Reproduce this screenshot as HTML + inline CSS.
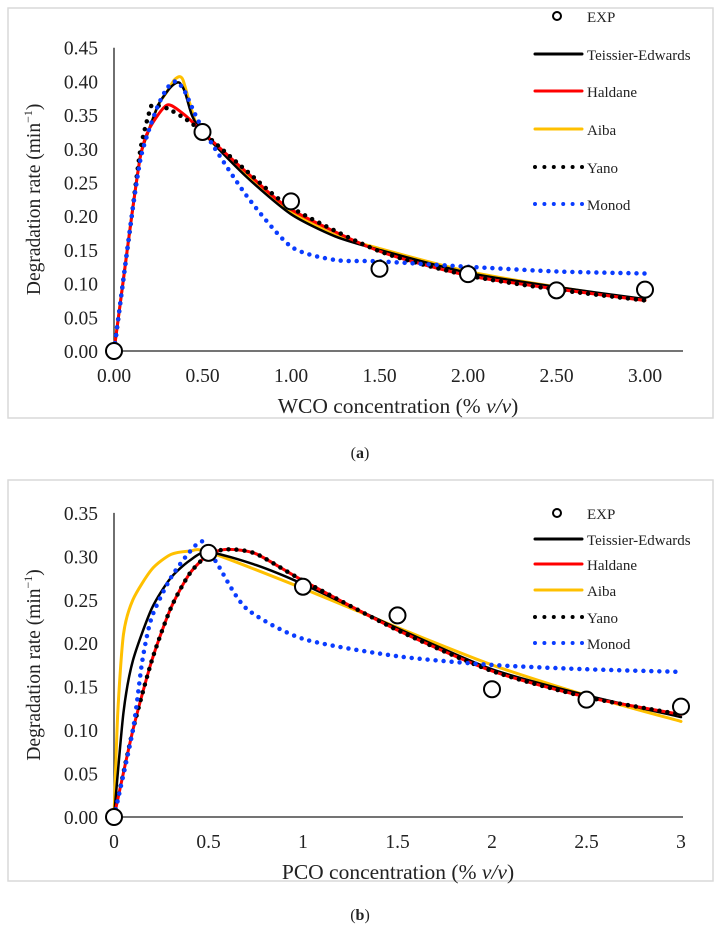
<!DOCTYPE html>
<html><head><meta charset="utf-8"><style>
body{margin:0;background:#fff;}
svg{display:block;font-family:"Liberation Serif",serif;}
</style></head><body>
<svg id="s" width="721" height="929"></svg>
<script>
// ---- Chart (a) data ----
const aTicksX=["0.00","0.50","1.00","1.50","2.00","2.50","3.00"];
const aTicksY=["0.00","0.05","0.10","0.15","0.20","0.25","0.30","0.35","0.40","0.45"];
const aExpX=[0,0.5,1,1.5,2,2.5,3];
const aExpY=[0,0.325,0.222,0.122,0.114,0.09,0.091];
const aTeX=[0,0.05,0.1,0.15,0.2,0.25,0.3,0.34,0.37,0.4,0.44,0.5,0.75,1,1.25,1.5,2,2.5,3];
const aTeY=[0,0.1,0.2,0.29,0.33,0.365,0.385,0.396,0.398,0.385,0.35,0.325,0.258,0.203,0.17,0.15,0.116,0.095,0.077];
const aAiX=[0,0.05,0.1,0.15,0.2,0.25,0.3,0.34,0.37,0.39,0.42,0.46,0.5,0.75,1,1.25,1.5,2,2.5,3];
const aAiY=[0,0.1,0.2,0.29,0.33,0.365,0.385,0.402,0.407,0.402,0.375,0.34,0.325,0.26,0.207,0.172,0.152,0.118,0.095,0.075];
const aHaX=[0,0.05,0.1,0.15,0.2,0.3,0.4,0.5,0.75,1,1.5,2,2.5,3];
const aHaY=[0,0.1,0.2,0.29,0.33,0.365,0.35,0.325,0.265,0.21,0.148,0.112,0.092,0.075];
const aYaX=[0,0.05,0.1,0.15,0.2,0.22,0.3,0.4,0.5,0.75,1,1.5,2,2.5,3];
const aYaY=[0,0.1,0.2,0.3,0.355,0.365,0.36,0.345,0.325,0.267,0.213,0.148,0.112,0.091,0.075];
const aMoX=[0,0.05,0.1,0.15,0.2,0.25,0.3,0.35,0.4,0.5,0.75,1,1.25,1.5,2,2.5,3];
const aMoY=[0,0.1,0.2,0.285,0.33,0.365,0.39,0.4,0.385,0.33,0.23,0.155,0.135,0.133,0.125,0.118,0.115];
// ---- Chart (b) data ----
const bTicksX=["0","0.5","1","1.5","2","2.5","3"];
const bTicksY=["0.00","0.05","0.10","0.15","0.20","0.25","0.30","0.35"];
const bExpX=[0,0.5,1,1.5,2,2.5,3];
const bExpY=[0,0.304,0.265,0.232,0.147,0.135,0.127];
const bAiX=[0,0.02,0.05,0.1,0.2,0.3,0.4,0.5,1,1.5,2,2.5,3];
const bAiY=[0,0.12,0.21,0.25,0.285,0.302,0.306,0.305,0.263,0.218,0.175,0.14,0.11];
const bTeX=[0,0.05,0.1,0.2,0.3,0.4,0.5,0.75,1,1.5,2,2.5,3];
const bTeY=[0,0.12,0.18,0.24,0.275,0.295,0.305,0.29,0.268,0.217,0.17,0.14,0.115];
const bHaX=[0,0.1,0.2,0.3,0.4,0.5,0.6,0.75,1,1.5,2,2.5,3];
const bHaY=[0,0.1,0.18,0.24,0.28,0.302,0.308,0.303,0.272,0.215,0.168,0.138,0.118];
const bYaX=[0,0.1,0.2,0.3,0.4,0.5,0.6,0.75,1,1.5,2,2.5,3];
const bYaY=[0,0.1,0.18,0.24,0.28,0.302,0.308,0.303,0.272,0.215,0.168,0.138,0.118];
const bMoX=[0,0.1,0.15,0.2,0.3,0.4,0.47,0.55,0.7,1,1.5,2,2.5,3];
const bMoY=[0,0.1,0.18,0.23,0.275,0.305,0.317,0.29,0.24,0.205,0.185,0.175,0.17,0.167];

const NS="http://www.w3.org/2000/svg";
const svg=document.getElementById('s');
function el(tag,attrs,parent,text){const e=document.createElementNS(NS,tag);for(const k in attrs)e.setAttribute(k,attrs[k]);if(text!==undefined)e.textContent=text;(parent||svg).appendChild(e);return e;}
function smooth(pts){let d="M"+pts[0][0]+","+pts[0][1];for(let i=0;i<pts.length-1;i++){const p0=pts[i-1]||pts[i],p1=pts[i],p2=pts[i+1],p3=pts[i+2]||p2;const t=0.12;const c1=[p1[0]+(p2[0]-p0[0])*t,p1[1]+(p2[1]-p0[1])*t],c2=[p2[0]-(p3[0]-p1[0])*t,p2[1]-(p3[1]-p1[1])*t];d+=` C${c1[0]},${c1[1]} ${c2[0]},${c2[1]} ${p2[0]},${p2[1]}`;}return d;}

function chart(cfg){
  const g=el('g',{});
  
  
  const fr=el('rect',{x:8,y:cfg.top,width:705,height:cfg.h,fill:'#fff',stroke:'#d9d9d9','stroke-width':1.5},g);
  
  
  const sx=v=>cfg.x0+v*cfg.kx, sy=v=>cfg.y0-v*cfg.ky;
  const ya=el('line',{x1:cfg.x0,y1:sy(cfg.ymax),x2:cfg.x0,y2:cfg.y0,stroke:'#222','stroke-width':1.3},g);
  
  
  const xa=el('line',{x1:cfg.x0,y1:cfg.y0,x2:cfg.xend,y2:cfg.y0,stroke:'#222','stroke-width':1.3},g);
  
  
  cfg.ty.forEach((t,i)=>{const e=el('text',{x:cfg.x0-16,y:sy(i*0.05)+7,'text-anchor':'end','font-size':19.5,fill:'#222'},g,t);
    
    });
  cfg.tx.forEach((t,i)=>{const e=el('text',{x:sx(i*0.5),y:cfg.y0+31,'text-anchor':'middle','font-size':19.5,fill:'#222'},g,t);
    
    });
  const yt=el('text',{x:0,y:0,transform:`translate(${cfg.ytx},${(sy(cfg.ymax)+cfg.y0)/2}) rotate(-90)`,'text-anchor':'middle','font-size':19.5,fill:'#222'},g);
  
  
  yt.innerHTML='Degradation rate (min<tspan dy="-8" font-size="12">−1</tspan><tspan dy="8">)</tspan>';
  const xt=el('text',{x:398,y:cfg.y0+62,'text-anchor':'middle','font-size':21.5,fill:'#222'},g);
  
  
  xt.innerHTML=cfg.xlab+' concentration (% <tspan font-style="italic">v/v</tspan>)';
  const styles=[
    {n:'Teissier-Edwards',c:'#000',w:2.5,d:null},
    {n:'Haldane',c:'#ff0000',w:3,d:null},
    {n:'Aiba',c:'#ffc000',w:3,d:null},
    {n:'Yano',c:'#000',w:4.5,d:'0 8'},
    {n:'Monod',c:'#0a3cff',w:4.5,d:'0 8'}];
  cfg.order.forEach(i=>{const s=styles[i];const X=cfg.series[i][0],Y=cfg.series[i][1];
    const pts=X.map((x,j)=>[sx(x),sy(Y[j])]);
    const p=el('path',{d:smooth(pts),fill:'none',stroke:s.c,'stroke-width':s.w,'stroke-linecap':'round'},g);
    if(s.d)p.setAttribute('stroke-dasharray',s.d);
    
    });
  cfg.ex.forEach((x,j)=>{const c=el('circle',{cx:sx(x),cy:sy(cfg.ey[j]),r:8,fill:'#fff',stroke:'#000','stroke-width':2},g);
    
    });
  const ly=cfg.ly;
  const le=el('circle',{cx:557,cy:ly[0],r:4,fill:'#fff',stroke:'#000','stroke-width':2},g);
  
  
  const lt=el('text',{x:587,y:ly[0]+6,'font-size':15,fill:'#222'},g,'EXP');
  
  
  styles.forEach((s,i)=>{const y=ly[i+1];
    const l=el('line',{x1:535,y1:y,x2:582,y2:y,stroke:s.c,'stroke-width':s.d?4:3,'stroke-linecap':'round'},g);
    if(s.d)l.setAttribute('stroke-dasharray','0 9.4');
    
    
    const t=el('text',{x:587,y:y+6,'font-size':15,fill:'#222'},g,s.n);
    
    });
}
chart({name:'chart-a',top:8,h:410,x0:114,y0:351,kx:177,ky:674,xend:683,ymax:0.45,tx:aTicksX,ty:aTicksY,ytx:40,xlab:'WCO',
  series:[[aTeX,aTeY],[aHaX,aHaY],[aAiX,aAiY],[aYaX,aYaY],[aMoX,aMoY]],order:[2,0,1,3,4],ex:aExpX,ey:aExpY,
  ly:[16,54,91,129,167,204]});
chart({name:'chart-b',top:480,h:401,x0:114,y0:817,kx:189,ky:869,xend:683,ymax:0.35,tx:bTicksX,ty:bTicksY,ytx:40,xlab:'PCO',
  series:[[bTeX,bTeY],[bHaX,bHaY],[bAiX,bAiY],[bYaX,bYaY],[bMoX,bMoY]],order:[2,0,1,3,4],ex:bExpX,ey:bExpY,
  ly:[513,539,564,590,617,643]});
const ca=el('text',{x:360,y:458,'text-anchor':'middle','font-size':16,fill:'#222'});


ca.innerHTML='(<tspan font-weight="bold">a</tspan>)';
const cb=el('text',{x:360,y:920,'text-anchor':'middle','font-size':16,fill:'#222'});


cb.innerHTML='(<tspan font-weight="bold">b</tspan>)';
</script>
</body></html>
